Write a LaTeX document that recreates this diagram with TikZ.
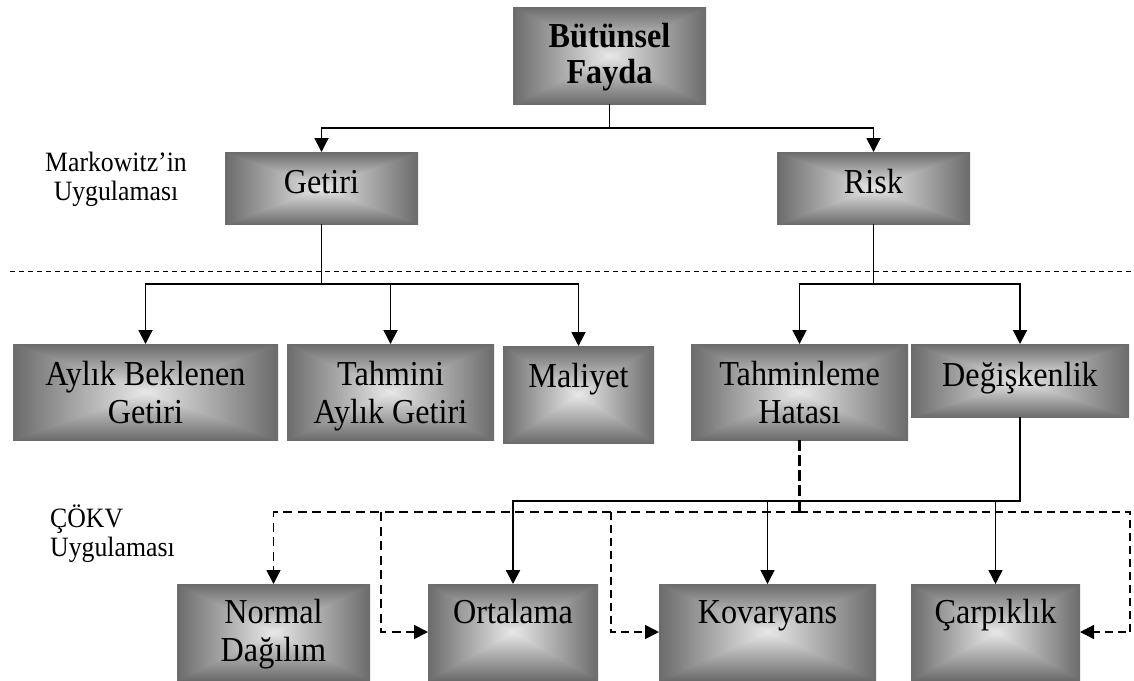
\documentclass[tikz,border=0pt]{standalone}
\usepackage{fontspec}
\setmainfont[FakeStretch=0.92]{Liberation Serif}
\usetikzlibrary{arrows.meta}
\pgfdeclarefunctionalshading{boxshade}{\pgfpoint{-50bp}{-50bp}}{\pgfpoint{50bp}{50bp}}{}{
abs exch abs 2 copy sub abs add add 2 div 25 div
dup 1 sub abs neg add 1 add 2 div
0.49 mul 0.91 exch sub dup dup
}
\newcommand\bxt[4]{\parbox[c][#2][t]{#1}{\centering\rule{0pt}{#3}#4\par}}
\tikzset{
  box/.style={shading=boxshade, inner sep=0pt, outer sep=0pt, font=\fontsize{35}{38}\selectfont},
  lab/.style={inner sep=0pt, font=\fontsize{28}{29}\selectfont},
  conn/.style={line width=1.9pt},
  tip/.style={-{Triangle[width=14pt,length=14pt]}},
  dconn/.style={line width=1.8pt, dash pattern=on 9pt off 5.5pt},
  dthin/.style={line width=1.4pt, dash pattern=on 8pt off 5pt},
  dthick/.style={line width=2.6pt, dash pattern=on 11pt off 4pt},
  sconn/.style={line width=2.2pt},
  sthin/.style={line width=1.4pt},
  sep/.style={line width=0.8pt, dash pattern=on 5pt off 4pt}
}
\begin{document}
\begin{tikzpicture}[x=1pt,y=-1pt]
\useasboundingbox (0,0) rectangle (1134,680);
% boxes
\node[box] (bf) at (609.5,55.5) {\bxt{193pt}{97pt}{40pt}{\fontsize{35}{36}\selectfont\bfseries Bütünsel\\Fayda}};
\node[box] (get) at (321.5,188) {\bxt{193pt}{72pt}{41pt}{Getiri}};
\node[box] (risk) at (873.5,188) {\bxt{193pt}{72pt}{41pt}{Risk}};
\node[box] (ayl) at (145.5,392) {\bxt{265pt}{96pt}{41pt}{Aylık Beklenen\\Getiri}};
\node[box] (tah) at (390.5,392) {\bxt{207pt}{96pt}{41pt}{Tahmini\\Aylık Getiri}};
\node[box] (mal) at (578.5,394.5) {\bxt{151pt}{97pt}{41pt}{Maliyet}};
\node[box] (hat) at (799.5,392) {\bxt{217pt}{96pt}{41pt}{Tahminleme\\Hatası}};
\node[box] (deg) at (1020,380.5) {\bxt{218pt}{73pt}{42pt}{Değişkenlik}};
\node[box] (nor) at (273.5,632) {\bxt{193pt}{96pt}{39pt}{Normal\\Dağılım}};
\node[box] (ort) at (513,632) {\bxt{170pt}{96pt}{39pt}{Ortalama}};
\node[box] (kov) at (767.5,632) {\bxt{217pt}{96pt}{39pt}{Kovaryans}};
\node[box] (car) at (995.5,632) {\bxt{169pt}{96pt}{39pt}{Çarpıklık}};
% labels
\node[lab, align=center] (mk) at (116,179) {Markowitz’in\\Uygulaması};
\node[lab, align=left, anchor=west] (ck) at (50,534) {ÇÖKV\\Uygulaması};
% separator
\coordinate (sl) at (10,271);
\coordinate (sr) at (1134,271);
\draw[sep] (sl) -- (sr);
% top connectors
\coordinate (j0) at (609.5,128);
\draw[conn] (bf.south) -- (j0);
\draw[conn,tip] (j0) -| (get.north);
\draw[conn,tip] (j0) -| (risk.north);
\coordinate (j1) at (321.5,284);
\draw[conn] (get.south) -- (j1);
\draw[conn,tip] (j1) -| (ayl.north);
\draw[conn,tip] (j1) -| (tah.north);
\draw[conn,tip] (j1) -| (mal.north);
\coordinate (j2) at (873.5,284);
\draw[conn] (risk.south) -- (j2);
\draw[conn,tip] (j2) -| (hat.north);
\draw[conn,tip] (j2) -| (deg.north);
% dashed connectors from Tahminleme Hatasi
\coordinate (d0) at (799.5,512);
\coordinate (d1) at (381,512);
\coordinate (d2) at (611,512);
\coordinate (d3) at (1130,512);
\draw[dthick] (hat.south) -- (d0);
\draw[dconn,tip] (d0) -| (nor.north);
\draw[dconn,tip] (d1) |- (ort.west);
\draw[dthin,tip] (d2) |- (kov.west);
\draw[dthin,tip] (d0) -- (d3) |- (car.east);
% solid connectors from Degiskenlik
\coordinate (s0) at (1020,501);
\draw[sconn,tip] (deg.south) -- (s0) -| (ort.north);
\draw[sthin,tip] (kov.north |- s0) -- (kov.north);
\draw[sthin,tip] (car.north |- s0) -- (car.north);
\end{tikzpicture}
\end{document}
